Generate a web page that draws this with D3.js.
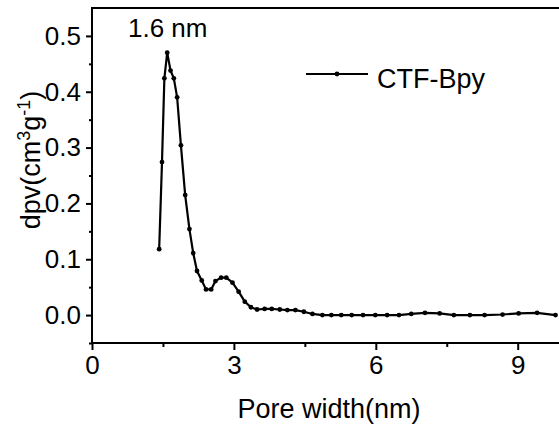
<!DOCTYPE html>
<html>
<head>
<meta charset="utf-8">
<script src="https://cdn.jsdelivr.net/npm/d3@7"></script>
<style>
    body { margin: 0; background: #fff; }
    svg text { font-family: Arial, "Liberation Sans", sans-serif; fill: #000; }
</style>
</head>
<body>
<svg id="chart" width="559" height="428"></svg>
<script>
// Pore width (nm) and dpv values
var poreWidth = [1.42, 1.48, 1.53, 1.59, 1.66, 1.73, 1.80, 1.88, 1.97, 2.06, 2.14, 2.22, 2.32, 2.41, 2.52,
    2.61, 2.73, 2.84, 2.97, 3.10, 3.23, 3.36, 3.49, 3.65, 3.80, 3.97, 4.13, 4.30, 4.48, 4.66, 4.87, 5.06,
    5.27, 5.49, 5.73, 5.99, 6.24, 6.49, 6.75, 7.04, 7.35, 7.65, 7.99, 8.30, 8.68, 9.02, 9.41, 9.80];
var dpv = [0.118, 0.274, 0.424, 0.470, 0.438, 0.424, 0.390, 0.304, 0.215, 0.154, 0.111, 0.079, 0.062, 0.046, 0.046,
    0.061, 0.067, 0.067, 0.058, 0.042, 0.024, 0.014, 0.010, 0.011, 0.011, 0.010, 0.009, 0.009, 0.006, 0.002, 0.000, 0.000,
    0.000, 0.000, 0.000, 0.000, 0.000, 0.000, 0.002, 0.004, 0.003, 0.000, 0.000, 0.000, 0.001, 0.003, 0.004, 0.000];
var xTicks = [0, 3, 6, 9];
var xMinorTicks = [1.5, 4.5, 7.5];
var yTicks = [0, 0.1, 0.2, 0.3, 0.4, 0.5];
var yMinorTicks = [-0.05, 0.05, 0.15, 0.25, 0.35, 0.45];
var seriesName = "CTF-Bpy";
var peakLabel = "1.6 nm";

var svg = d3.select("#chart");
// plot box (right edge falls outside the window, as in the original)
var plotLeft = 92, plotTop = 8, plotRight = 565, plotBottom = 343;

var x = d3.scaleLinear().domain([0, 10]).range([plotLeft, plotRight]);
var y = d3.scaleLinear().domain([-0.05, 0.55]).range([plotBottom, plotTop]);

/**
 * Axes: major ticks with labels, minor ticks without
 */
var xAxis = svg.append("g").attr("transform", "translate(0," + plotBottom + ")");
xAxis.call(d3.axisBottom(x).tickValues(xTicks).tickSize(7).tickPadding(6).tickFormat(d3.format("d")));
xAxis.append("g").call(d3.axisBottom(x).tickValues(xMinorTicks).tickSize(4).tickFormat(""));

var yAxis = svg.append("g").attr("transform", "translate(" + plotLeft + ",0)");
yAxis.call(d3.axisLeft(y).tickValues(yTicks).tickSize(6).tickPadding(5).tickFormat(d3.format(".1f")));
yAxis.append("g").call(d3.axisLeft(y).tickValues(yMinorTicks).tickSize(3).tickFormat(""));

svg.selectAll(".domain").remove();
svg.selectAll(".tick line").attr("stroke", "#000").attr("stroke-width", 2);
svg.selectAll(".tick text").style("font-size", "26px");

// frame round the plot
svg.append("rect")
    .attr("x", plotLeft).attr("y", plotTop)
    .attr("width", plotRight - plotLeft).attr("height", plotBottom - plotTop)
    .attr("fill", "none").attr("stroke", "#000").attr("stroke-width", 2);

/**
 * Data line with dot markers
 */
var pts = poreWidth.map(function (d, i) { return [d, dpv[i]]; });
var line = d3.line().x(function (d) { return x(d[0]); }).y(function (d) { return y(d[1]); });

svg.append("path")
    .datum(pts)
    .attr("d", line)
    .attr("fill", "none")
    .attr("stroke", "#000")
    .attr("stroke-width", 2.2)
    .attr("stroke-linejoin", "round");

svg.append("g").selectAll("circle")
    .data(pts)
    .enter().append("circle")
    .attr("cx", function (d) { return x(d[0]); })
    .attr("cy", function (d) { return y(d[1]); })
    .attr("r", 2.4)
    .attr("fill", "#000");

// peak annotation
svg.append("text").attr("x", 128).attr("y", 37).style("font-size", "26px").text(peakLabel);

// legend
svg.append("line").attr("x1", 306).attr("x2", 368).attr("y1", 74).attr("y2", 74)
    .attr("stroke", "#000").attr("stroke-width", 2);
svg.append("circle").attr("cx", 337).attr("cy", 74).attr("r", 2.4).attr("fill", "#000");
svg.append("text").attr("x", 377).attr("y", 88).style("font-size", "27px").text(seriesName);

// axis titles
svg.append("text")
    .attr("x", 329).attr("y", 418)
    .attr("text-anchor", "middle")
    .style("font-size", "27px")
    .text("Pore width(nm)");

var yTitle = svg.append("text")
    .attr("transform", "translate(40,160) rotate(-90)")
    .attr("text-anchor", "middle")
    .style("font-size", "27px");
yTitle.append("tspan").text("dpv(cm");
yTitle.append("tspan").attr("dy", -10).style("font-size", "18px").text("3");
yTitle.append("tspan").attr("dy", 10).text("g");
yTitle.append("tspan").attr("dy", -10).style("font-size", "18px").text("-1");
yTitle.append("tspan").attr("dy", 10).text(")");
</script>
</body>
</html>
